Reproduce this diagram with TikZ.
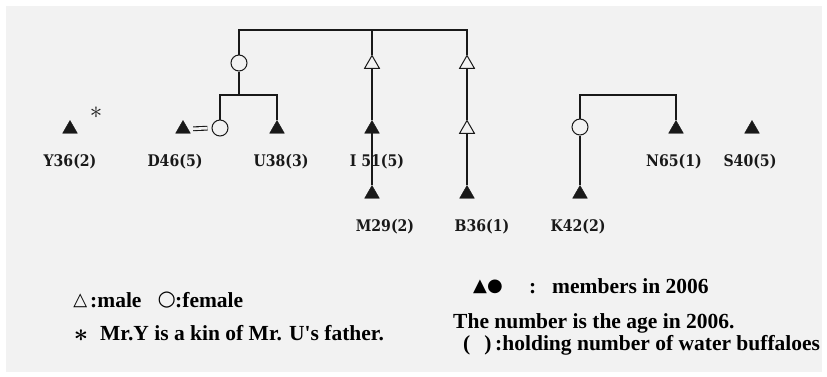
\documentclass[tikz,border=0pt]{standalone}
\usepackage{fontspec}
\usetikzlibrary{shapes.geometric}
\newfontfamily\labfont{DejaVu Serif}[FakeStretch=0.88]
\newfontfamily\legfont{Liberation Serif}
\newfontfamily\symfont{DejaVu Sans}
\definecolor{bg}{RGB}{242,242,242}
\definecolor{ink}{RGB}{25,25,25}
\begin{document}
\begin{tikzpicture}[x=1pt,y=-1pt,
  ftri/.style={regular polygon,regular polygon sides=3,fill=ink,draw=ink,inner sep=0pt,minimum size=17pt,line width=0.4pt},
  otri/.style={regular polygon,regular polygon sides=3,fill=bg,draw=ink,inner sep=0pt,minimum size=17pt,line width=1pt},
  circ/.style={circle,fill=bg,draw=ink,inner sep=0pt,minimum size=16pt,line width=1pt},
  link/.style={draw=ink,line width=1.2pt},
  toplink/.style={draw=ink,line width=1.8pt},
  lab/.style={font=\labfont\bfseries\fontsize{16}{18}\selectfont,inner sep=0pt,text=ink},
  leg/.style={font=\legfont\bfseries\fontsize{21.5}{24}\selectfont,inner sep=0pt,anchor=base west,text=black},
  sym/.style={font=\symfont\fontsize{18}{20}\selectfont,inner sep=0pt,text=black},
]
\useasboundingbox (0,0) rectangle (827,376);
\fill[bg] (6,6) rectangle (822,372);

% helper levels
\coordinate (t) at (0,30);
\coordinate (br) at (0,95);

% persons
\node[ftri] (y) at (70,129) {};
\node[font=\fontsize{25}{25}\selectfont,inner sep=0pt,text=ink] (ast) at (96,113) {$\ast$};
\node[ftri] (d) at (183,129) {};
\node[circ] (dc) at (220,128) {};
\node[circ] (mom) at (239,63) {};
\node[ftri] (u) at (277,129) {};
\node[otri] (i1) at (372,64) {};
\node[ftri] (i2) at (372,129) {};
\node[ftri] (m) at (372,194) {};
\node[otri] (b1) at (467,64) {};
\node[otri] (b2) at (467,129) {};
\node[ftri] (b) at (467,194) {};
\node[circ] (kc) at (580,127) {};
\node[ftri] (k) at (580,194) {};
\node[ftri] (n) at (676,129) {};
\node[ftri] (s) at (752,129) {};

% labels
\node[lab] (ly) at (70,162) {Y36(2)};
\node[lab] (ld) at (175,162) {D46(5)};
\node[lab] (lu) at (281,162) {U38(3)};
\node[lab] (li) at (377,162) {I 51(5)};
\node[lab] (ln) at (674,162) {N65(1)};
\node[lab] (ls) at (750,162) {S40(5)};
\node[lab] (lm) at (385,227) {M29(2)};
\node[lab] (lb) at (482,227) {B36(1)};
\node[lab] (lk) at (578,227) {K42(2)};

% connectors
\draw[toplink] (mom.north) -- (mom.north |- t) -- (b1.north |- t) -- (b1.north);
\draw[link] (i1.north) -- (i1.north |- t);
\draw[link] (mom.south) -- (mom.south |- br);
\draw[link] (dc.north) -- (dc.north |- br) -- (u.north |- br) -- (u.north);
\draw[link] (i1.south) -- (i2.north);
\draw[link] (i2.south) -- (m.north);
\draw[link] (b1.south) -- (b2.north);
\draw[link] (b2.south) -- (b.north);
\draw[link] (kc.north) -- (kc.north |- br) -- (n.north |- br) -- (n.north);
\draw[link] (kc.south) -- (k.north);
\draw[draw=ink,line width=1.1pt,double=bg,double distance=2.6pt,shorten <=5pt,shorten >=4pt] (d.east) -- (dc.west);

% legend
\node[sym] (lgt) at (80.3,300.5) {△};
\node[leg] (lgm) at (90,307) {:male};
\node[sym,font=\symfont\fontsize{21}{22}\selectfont] (lgc) at (166.7,300.5) {○};
\node[leg] (lgf) at (175,307) {:female};
\node[font=\fontsize{27}{27}\selectfont\boldmath,inner sep=0pt] (lga) at (81,336) {$\ast$};
\node[leg] (lgy) at (100,340) {Mr.Y is a kin of Mr. U's father.};
\node[sym] (lgs) at (488,287) {▲●};
\node[leg] (lgcol) at (529,293) {:};
\node[leg] (lgmem) at (552,293) {members in 2006};
\node[leg] (lgnum) at (453,328) {The number is the age in 2006.};
\node[leg] (lgpar) at (463,350) {(\hspace{14pt})};
\node[leg] (lghold) at (495,350) {:holding number of water buffaloes};
\end{tikzpicture}
\end{document}
